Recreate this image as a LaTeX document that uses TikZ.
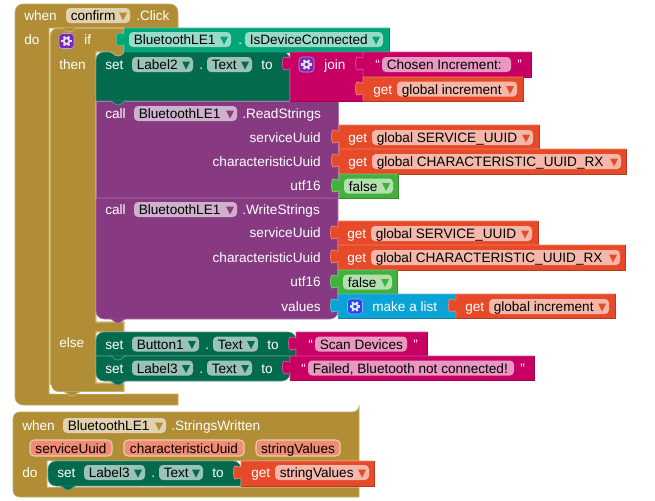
\documentclass[tikz,border=0pt]{standalone}
\usepackage{fontspec}
\setmainfont{Liberation Sans}
\definecolor{evtan}{RGB}{177,142,53}
\definecolor{setgreen}{RGB}{3,106,78}
\definecolor{btteal}{RGB}{0,165,120}
\definecolor{callpurple}{RGB}{135,58,130}
\definecolor{strmag}{RGB}{200,0,100}
\definecolor{getred}{RGB}{230,74,40}
\definecolor{boolgreen}{RGB}{66,176,60}
\definecolor{listblue}{RGB}{10,163,214}
\definecolor{gearpurple}{RGB}{120,40,180}
\definecolor{gearblue}{RGB}{40,70,240}
\definecolor{parsalmon}{RGB}{241,140,115}
\tikzset{
 blocktext/.style={inner sep=0, font=\fontsize{10.2}{12}\selectfont},
 lbl/.style={blocktext, white, anchor=base west},
 lblr/.style={blocktext, white, anchor=base east},
 fieldtext/.style={blocktext, black, anchor=base west},
 partext/.style={blocktext, black, anchor=base},
}
\begin{document}
\begin{tikzpicture}[x=.75pt, y=-.75pt]
\useasboundingbox (0,0) rectangle (655,500);
% event blocks
\draw[fill=evtan, draw=evtan!75!white] (178,405) [rounded corners=6] -- (15,405) -- (15,4) -- (178,4) [sharp corners] -- (178,28) -- (49,28) -- (49,394) -- (178,394) -- cycle;
\draw[fill=evtan, draw=evtan!75!white] (359,412) -- (359,460.5) -- (47,460.5) -- (47,487.5) -- (359,487.5) -- (359,497) [rounded corners=5] -- (13,497) -- (13,412) -- (359,412) [sharp corners] -- cycle;
% if block
\draw[fill=evtan, draw=evtan!60!white, line width=.8] (124,28) -- (124,52) -- (96,52) -- (96,322) -- (124,322) -- (124,332) -- (96,332) -- (96,383) -- (124,383) -- (124,392) [rounded corners=6] -- (50,392) -- (50,28) [sharp corners] -- cycle;
\draw[white, line width=1.3, rounded corners=6] (50.5,385) -- (50.5,393) -- (124,393);
% statement blocks
\draw[fill=setgreen, draw=setgreen!70!white] (290,101) -- (96,101) [rounded corners=6] -- (96,52) -- (290,52) [sharp corners] -- cycle;
\draw[fill=callpurple, draw=callpurple!70!white] (96,101) rectangle (338,198);
\draw[fill=callpurple, draw=callpurple!70!white] (338,198) -- (96,198) [rounded corners=6] -- (96,319) -- (338,319) [sharp corners] -- cycle;
\draw[fill=setgreen, draw=setgreen!70!white] (296,356) -- (96,356) [rounded corners=6] -- (96,332) -- (296,332) [sharp corners] -- cycle;
\draw[fill=setgreen, draw=setgreen!70!white] (290,356) -- (96,356) [rounded corners=6] -- (96,381) -- (290,381) [sharp corners] -- cycle;
\draw[fill=setgreen, draw=setgreen!70!white] (241,486) [rounded corners=6] -- (48,486) -- (48,461) -- (241,461) [sharp corners] -- cycle;
% tabs between statements
\foreach \xt/\yt/\c in {61/28/evtan, 110/52/evtan, 110/101/setgreen, 110/319/callpurple, 110/356/setgreen, 110/381/setgreen, 64/392/evtan, 60/486/setgreen} {
 \fill[\c] (\xt,\yt-.5) .. controls (\xt+3,\yt) and (\xt+4,\yt+4) .. (\xt+8,\yt+4) .. controls (\xt+12,\yt+4) and (\xt+13,\yt) .. (\xt+16,\yt-.5) -- cycle;
 \draw[\c!70!white, line width=.6] (\xt,\yt) .. controls (\xt+3,\yt) and (\xt+4,\yt+4) .. (\xt+8,\yt+4) .. controls (\xt+12,\yt+4) and (\xt+13,\yt) .. (\xt+16,\yt);
}
% value blocks with their plugs
\foreach \xa/\xb/\ya/\yb/\c in {124/389/28/52/btteal, 290/363/52/101/strmag, 363/531/52/77/strmag, 363/523/77/101/getred,
 339/539/125/149/getred, 339/626/149/174/getred, 339/398/174/198/boolgreen,
 338/538/221/245/getred, 338/625/245/270/getred, 338/397/270/294/boolgreen, 338/456/294/318/listblue, 456/615/294/318/getred,
 296/427/332/356/strmag, 290/534/356/380/strmag, 241/374/461/486/getred} {
 \fill[\c] (\xa,\ya) -- (\xb,\ya) -- (\xb,\yb) -- (\xa,\yb) -- (\xa,\ya+17) .. controls (\xa-2,\ya+15.5) and (\xa-3,\ya+19) .. (\xa-6,\ya+18) .. controls (\xa-8,\ya+17) and (\xa-8,\ya+6) .. (\xa-6,\ya+5) .. controls (\xa-3,\ya+4) and (\xa-2,\ya+7.5) .. (\xa,\ya+6) -- cycle;
 \draw[\c!70!white, line width=.6] (\xa,\yb) -- (\xa,\ya+17) .. controls (\xa-2,\ya+15.5) and (\xa-3,\ya+19) .. (\xa-6,\ya+18) .. controls (\xa-8,\ya+17) and (\xa-8,\ya+6) .. (\xa-6,\ya+5) .. controls (\xa-3,\ya+4) and (\xa-2,\ya+7.5) .. (\xa,\ya+6) -- (\xa,\ya) -- (\xb,\ya);
 \draw[\c!80!black, line width=.6] (\xb,\ya) -- (\xb,\yb) -- (\xa,\yb);
}
% mutator icons
\foreach \xg/\yg/\c [count=\i] in {66.5/41/gearpurple, 306.5/64.5/gearpurple, 355/306.5/gearblue} {
 \draw[fill=\c, draw=\c!45!white, rounded corners=2.5] (\xg-7.5,\yg-7.5) rectangle (\xg+7.5,\yg+7.5);
 \draw[white!85!\c, line width=1.3] (\xg,\yg) circle (2.8);
 \foreach \a in {0,60,...,300} {
  \fill[white!85!\c] (\xg,\yg) ++(\a:3) ++(\a+90:1.1) -- ++(\a:2.2) -- ++(\a-90:2.2) -- ++(\a:-2.2) -- cycle;
 }
}
% dropdown fields
\foreach \xa/\xb/\yy/\txt/\c [count=\i] in {66/130/15.5/confirm/evtan, 129/231/39.5/BluetoothLE1/btteal, 245/383/39.5/IsDeviceConnected/btteal,
 132/193/64.5/Label2/setgreen, 207/252/64.5/Text/setgreen, 397/517/89/global increment/getred,
 134/237/113.5/BluetoothLE1/callpurple, 372/533/137.5/global SERVICE\_UUID/getred, 372/621/161.5/global CHARACTERISTIC\_UUID\_RX/getred, 344/393/186/false/boolgreen,
 134/237/209.5/BluetoothLE1/callpurple, 371/532/233.5/global SERVICE\_UUID/getred, 371/620/257.5/global CHARACTERISTIC\_UUID\_RX/getred, 343/392/282/false/boolgreen,
 489/609/306.5/global increment/getred, 132/199/344/Button1/setgreen, 213/258/344/Text/setgreen, 132/193/368/Label3/setgreen, 207/252/368/Text/setgreen,
 63/166/425.5/BluetoothLE1/evtan, 84/145/472.5/Label3/setgreen, 159/203/472.5/Text/setgreen, 275/369/472.5/stringValues/getred} {
 \fill[\c!40!white, rounded corners=3] (\xa,\yy-7.5) rectangle (\xb,\yy+7.5);
 \fill[\c] (\xb-11,\yy-3) -- (\xb-3,\yy-3) -- (\xb-7,\yy+5) -- cycle;
 \node[fieldtext] (fld\i) at (\xa+4.5,\yy+5) {\txt};
}
% text fields
\foreach \xa/\xb/\yy/\txt [count=\i] in {382/511/64.5/{Chosen Increment:}, 315/407/344/{Scan Devices}, 308/514/368/{Failed, Bluetooth not connected!}} {
 \fill[strmag!40!white, rounded corners=3] (\xa,\yy-7.5) rectangle (\xb,\yy+7.5);
 \node[fieldtext] (txt\i) at (\xa+4.5,\yy+5) {\txt};
 \node[lbl] (qa\i) at (\xa-7,\yy+5) {“};
 \node[lbl] (qb\i) at (\xb+6,\yy+5) {”};
}
% event parameters
\foreach \xa/\xb/\txt [count=\i] in {30/112/serviceUuid, 124/244/characteristicUuid, 256/340/stringValues} {
 \draw[fill=parsalmon, draw=evtan!40!white, line width=.8, rounded corners=3] (\xa,440) rectangle (\xb,456);
 \node[partext] (par\i) at ({(\xa+\xb)/2},453) {\txt};
}
% white labels
\foreach \xa/\yy/\txt [count=\i] in {24/15.5/when, 136/15.5/.Click, 24/39.5/do, 84/39.5/if, 59/64/then, 238/39.5/., 105/64.5/set, 199/64.5/., 261/64.5/to, 324/64.5/join,
 373/89/get, 105/113.5/call, 242/113.5/.ReadStrings, 348/137.5/get, 348/161.5/get,
 105/209.5/call, 242/209.5/.WriteStrings, 347/233.5/get, 347/257.5/get, 372/306.5/make a list, 465/306.5/get,
 59/342/else, 105/344/set, 205/344/., 267/344/to, 105/368/set, 199/368/., 261/368/to,
 22/425.5/when, 171/425.5/.StringsWritten, 22/472/do, 57/472.5/set, 151/472.5/., 212/472.5/to, 251/472.5/get} {
 \node[lbl] (lbl\i) at (\xa,\yy+5) {\txt};
}
\foreach \yy/\txt [count=\i] in {137/serviceUuid, 161.5/characteristicUuid, 185.5/utf16, 232.5/serviceUuid, 257/characteristicUuid, 281.5/utf16, 306/values} {
 \node[lblr] (rl\i) at (321,\yy+5) {\txt};
}
\end{tikzpicture}
\end{document}
